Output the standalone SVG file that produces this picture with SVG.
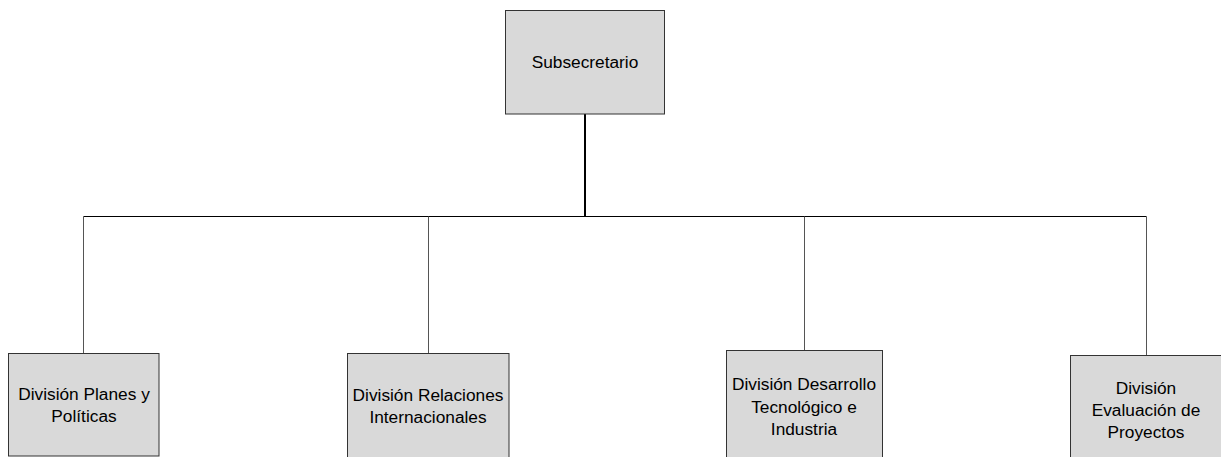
<svg xmlns="http://www.w3.org/2000/svg" width="1221" height="457" viewBox="0 0 1221 457">
<style>
.box{fill:#d9d9d9;stroke:#333;stroke-width:1}
.t{font-family:"Liberation Sans",Arial,sans-serif;font-size:17.3px;fill:#000;text-anchor:middle}
.thin{stroke:#555;stroke-width:1;fill:none}
</style>
<rect width="1221" height="457" fill="#fff"/>
<g id="connectors">
<line x1="585" y1="114" x2="585" y2="217" stroke="#000" stroke-width="2"/>
<line x1="83.5" y1="216.5" x2="1146.5" y2="216.5" stroke="#000" stroke-width="1"/>
<line class="thin" x1="83.5" y1="216.5" x2="83.5" y2="353.5"/>
<line class="thin" x1="428.5" y1="216.5" x2="428.5" y2="353.5"/>
<line class="thin" x1="804.5" y1="216.5" x2="804.5" y2="350.5"/>
<line class="thin" x1="1146.5" y1="216.5" x2="1146.5" y2="355.5"/>
</g>
<g id="subsecretario">
<rect class="box" x="505.5" y="10.5" width="159" height="103.5"/>
<text class="t" x="585" y="68">Subsecretario</text>
</g>
<g id="planes">
<rect class="box" x="8.5" y="353.5" width="150.5" height="102.5"/>
<text class="t" x="84" y="399.5">División Planes y</text>
<text class="t" x="84" y="422">Políticas</text>
</g>
<g id="relaciones">
<rect class="box" x="347.5" y="353.5" width="161.5" height="110"/>
<text class="t" x="428" y="400.5">División Relaciones</text>
<text class="t" x="428" y="422.5">Internacionales</text>
</g>
<g id="desarrollo">
<rect class="box" x="726.5" y="350.5" width="156" height="115"/>
<text class="t" x="804" y="390">División Desarrollo</text>
<text class="t" x="804" y="412.5">Tecnológico e</text>
<text class="t" x="804" y="435">Industria</text>
</g>
<g id="evaluacion">
<rect class="box" x="1070.5" y="355.5" width="155" height="110"/>
<text class="t" x="1146" y="393.5">División</text>
<text class="t" x="1146" y="415.5">Evaluación de</text>
<text class="t" x="1146" y="437.5">Proyectos</text>
</g>
</svg>
